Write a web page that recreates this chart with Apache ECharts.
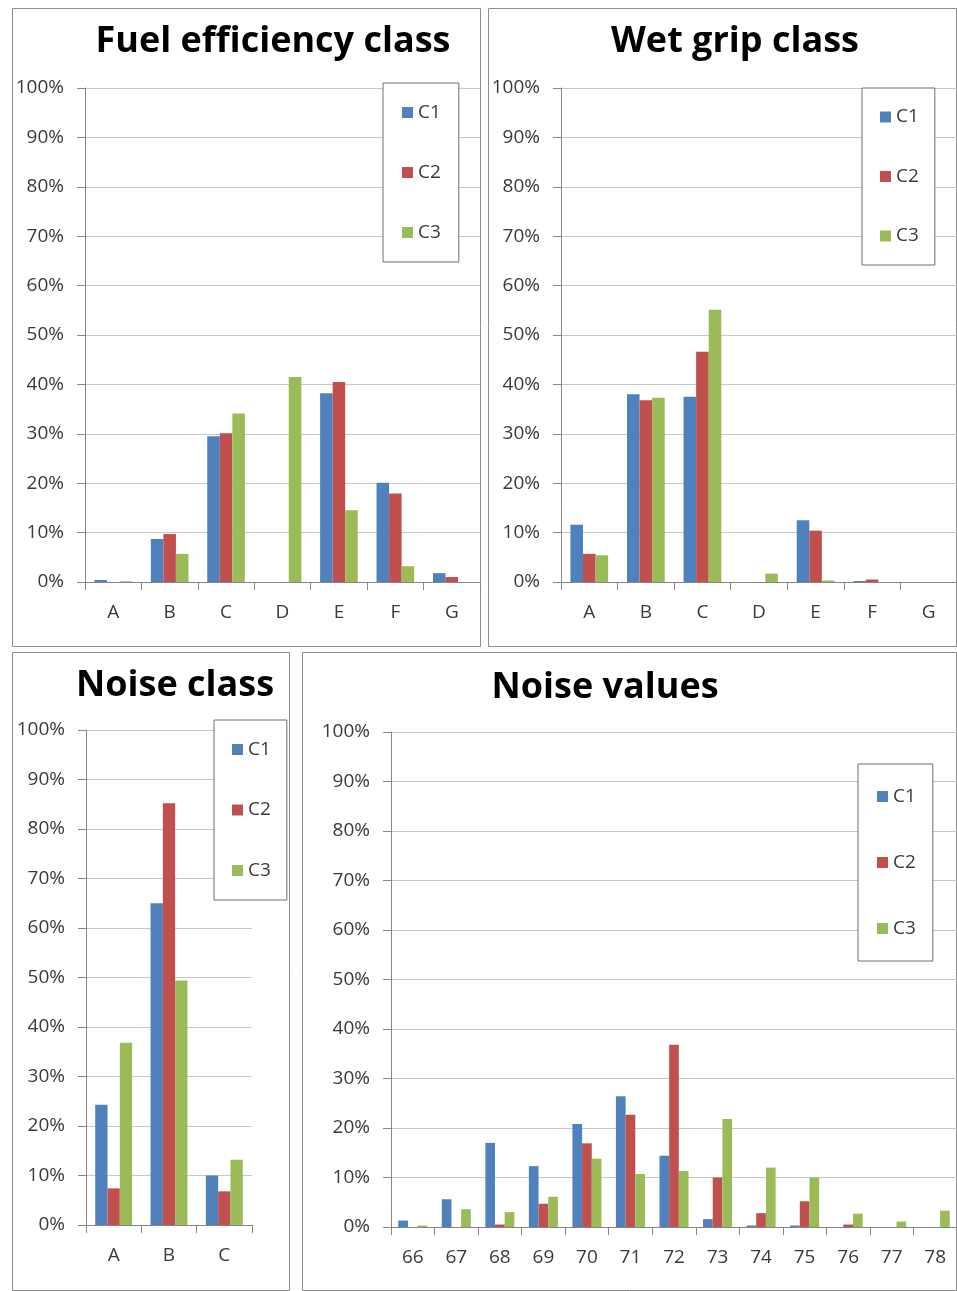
<!DOCTYPE html>
<html>
<head>
<meta charset="utf-8">
<script src="https://cdn.jsdelivr.net/npm/echarts@6/dist/echarts.min.js"></script>
<style>
  html, body { margin: 0; padding: 0; background: #fff; }
  #chart { width: 957px; height: 1291px; }
</style>
</head>
<body>
<div id="chart"></div>
<script>
// series names
const seriesNames = ["C1", "C2", "C3"];

// Fuel efficiency class (% of tyres)
const fuelCats = ["A", "B", "C", "D", "E", "F", "G"];
const fuelC1 = [0.4, 8.7, 29.5, 0, 38.2, 20.1, 1.8];
const fuelC2 = [0, 9.7, 30.1, 0, 40.5, 17.9, 1.0];
const fuelC3 = [0.15, 5.7, 34.1, 41.5, 14.5, 3.2, 0];

// Wet grip class
const wetCats = ["A", "B", "C", "D", "E", "F", "G"];
const wetC1 = [11.6, 38.0, 37.5, 0, 12.5, 0.2, 0];
const wetC2 = [5.7, 36.8, 46.6, 0, 10.4, 0.5, 0];
const wetC3 = [5.4, 37.3, 55.1, 1.7, 0.3, 0, 0];

// Noise class
const noiseCats = ["A", "B", "C"];
const noiseC1 = [24.3, 65.0, 10.0];
const noiseC2 = [7.4, 85.2, 6.8];
const noiseC3 = [36.8, 49.4, 13.2];

// Noise values (dB)
const valueCats = ["66", "67", "68", "69", "70", "71", "72", "73", "74", "75", "76", "77", "78"];
const valueC1 = [1.3, 5.6, 17.0, 12.3, 20.8, 26.4, 14.4, 1.6, 0.3, 0.3, 0, 0, 0];
const valueC2 = [0, 0, 0.5, 4.7, 16.9, 22.7, 36.8, 10.0, 2.8, 5.2, 0.5, 0, 0];
const valueC3 = [0.3, 3.6, 3.0, 6.1, 13.8, 10.7, 11.3, 21.8, 12.0, 10.0, 2.7, 1.1, 3.3];

const titles = ["Fuel efficiency class", "Wet grip class", "Noise class", "Noise values"];

const colors = ["#4F81BD", "#C0504D", "#9BBB59"];
const labelFont = "'Open Sans', sans-serif";
const labelColor = "#3a3a3a";

// panel layout: frame box, plot grid, title center, legend box
const panels = [
  { frame: [12, 8, 468, 638], grid: [85, 88, 395, 494], title: [273, 42],
    legend: { left: 383, top: 83, gap: 41, pad: [20, 18, 20, 19] } },
  { frame: [488, 8, 468, 638], grid: [561, 88, 396, 494], title: [735, 42],
    legend: { left: 862, top: 88, gap: 40.5, pad: [19.5, 16, 19.5, 18] } },
  { frame: [12, 652, 277, 638], grid: [86, 730, 166, 495], title: [175, 686],
    legend: { left: 214, top: 720, gap: 41.5, pad: [20, 16, 20, 18] } },
  { frame: [302, 652, 654, 638], grid: [391, 732, 569, 495], title: [605, 688],
    legend: { left: 858, top: 764, gap: 47, pad: [23, 17, 23, 19] } },
];

const data = [
  [fuelCats, fuelC1, fuelC2, fuelC3],
  [wetCats, wetC1, wetC2, wetC3],
  [noiseCats, noiseC1, noiseC2, noiseC3],
  [valueCats, valueC1, valueC2, valueC3],
];

const grid = [], xAxis = [], yAxis = [], series = [], legend = [], graphic = [];

panels.forEach((p, i) => {
  const [cats, c1, c2, c3] = data[i];
  grid.push({ left: p.grid[0], top: p.grid[1], width: p.grid[2], height: p.grid[3] });
  xAxis.push({
    type: "category",
    gridIndex: i,
    data: cats,
    axisLine: { lineStyle: { color: "#868686", width: 1 } },
    axisTick: { show: true, length: 8, lineStyle: { color: "#868686" } },
    axisLabel: { margin: 21, fontSize: 19, fontFamily: labelFont, color: labelColor },
  });
  yAxis.push({
    type: "value",
    gridIndex: i,
    min: 0,
    max: 100,
    interval: 10,
    axisLine: { show: true, lineStyle: { color: "#868686", width: 1 } },
    axisTick: { show: true, length: 8, lineStyle: { color: "#868686" } },
    axisLabel: { margin: 21, fontSize: 19, fontFamily: labelFont, color: labelColor, formatter: "{value}%" },
    splitLine: { lineStyle: { color: "#c8c8c8", width: 1 } },
  });
  [c1, c2, c3].forEach((vals, k) => {
    series.push({
      name: seriesNames[k],
      type: "bar",
      xAxisIndex: i,
      yAxisIndex: i,
      data: vals,
      barGap: "0%",
      barCategoryGap: "33.3%",
      itemStyle: { color: colors[k] },
      emphasis: { disabled: true },
    });
  });
  legend.push({
    orient: "vertical",
    left: p.legend.left,
    top: p.legend.top,
    data: seriesNames,
    itemWidth: 11,
    itemHeight: 11,
    itemGap: p.legend.gap,
    padding: p.legend.pad,
    borderColor: "#6e6e6e",
    borderWidth: 1,
    backgroundColor: "#fff",
    icon: "rect",
    selectedMode: false,
    textStyle: { fontSize: 19, lineHeight: 18, fontFamily: labelFont, color: labelColor },
  });
  graphic.push({
    type: "rect",
    shape: { x: p.frame[0] + 0.5, y: p.frame[1] + 0.5, width: p.frame[2], height: p.frame[3] },
    style: { fill: "none", stroke: "#8c8c8c", lineWidth: 1 },
    silent: true,
    z: -1,
  });
  graphic.push({
    type: "text",
    x: p.title[0],
    y: p.title[1],
    style: {
      text: titles[i],
      font: "bold 36px 'Open Sans', sans-serif",
      fill: "#000",
      textAlign: "center",
      textVerticalAlign: "middle",
    },
    silent: true,
  });
});

const myChart = echarts.init(document.getElementById("chart"));
myChart.setOption({
  animation: false,
  grid: grid,
  xAxis: xAxis,
  yAxis: yAxis,
  legend: legend,
  series: series,
  graphic: graphic,
});
</script>
</body>
</html>
